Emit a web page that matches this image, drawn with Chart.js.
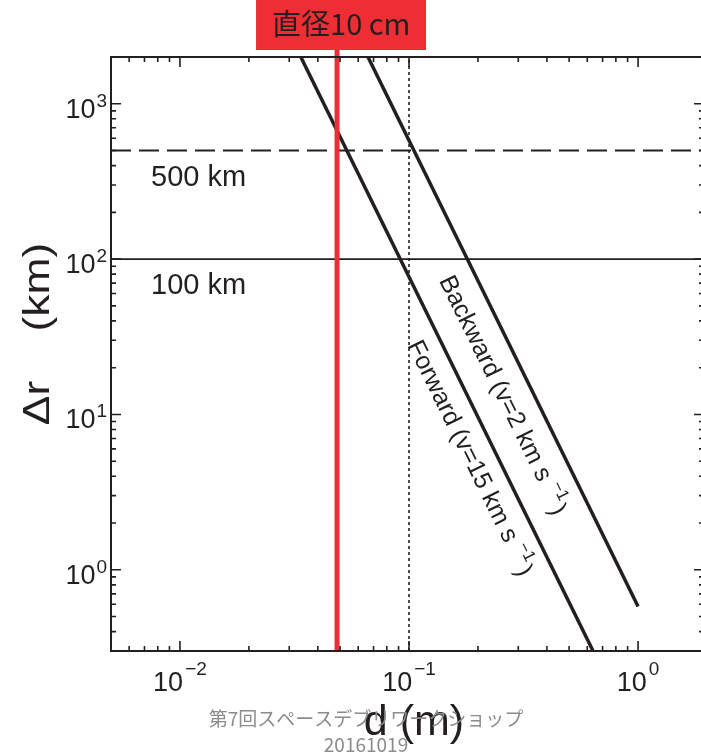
<!DOCTYPE html>
<html>
<head>
<meta charset="utf-8">
<script src="https://cdn.jsdelivr.net/npm/chart.js@4"></script>
<style>
  html, body { margin: 0; padding: 0; overflow: hidden; background: #fff; }
  #wrap { position: relative; width: 701px; height: 755px; overflow: hidden; }
  canvas { display: block; }
</style>
</head>
<body>
<div id="wrap"><canvas id="c" width="708" height="755" style="width:708px;height:755px"></canvas></div>
<script>
// Separation Δr reached by fragments versus their size d, on log–log axes.
const dRange = [0.005, 1.94];     // m
const drRange = [0.3, 2000];      // km

const forwardD = [0.0337, 0.636];
const forwardDr = [2000, 0.3];
const backwardD = [0.0662, 1.0];
const backwardDr = [2000, 0.58];

const refLevels = [500, 100];     // km
const refLabels = ['500 km', '100 km'];
const guideD = 0.1;               // dotted guide at 10 cm
const sizeD = 0.0485;             // red marker
const sizeLabel = '直径10 cm';

const xTickExps = [-2, -1, 0];
const yTickExps = [0, 1, 2, 3];

const curveNames = ['Forward (v=15 km s', 'Backward (v=2 km s'];
const curveAnchorD = [0.098, 0.135];
const curveAnchorDr = [27.9, 72.9];

const xTitle = 'd (m)';
const yTitle = 'Δr    (km)';
const footerLines = ['第7回スペースデブリワークショップ', '20161019'];

const INK = '#231f20';
const RED = '#ee2d35';
const SANS = '"Liberation Sans", Arial, sans-serif';
const CJK = '"Noto Sans CJK JP", "Noto Sans", sans-serif';

const pts = (xs, ys) => xs.map((x, i) => ({ x, y: ys[i] }));

function minorValues(lo, hi) {
  const out = [];
  for (let e = Math.floor(Math.log10(lo)); e <= Math.ceil(Math.log10(hi)); e++) {
    for (let m = 1; m <= 9; m++) {
      const v = m * Math.pow(10, e);
      if (v >= lo * 0.999 && v <= hi * 1.001) out.push({ v, major: m === 1 });
    }
  }
  return out;
}

const decor = {
  id: 'decor',
  beforeDatasetsDraw(chart) {
    const { ctx } = chart;
    ctx.save();
    ctx.fillStyle = '#fff';
    ctx.fillRect(0, 0, chart.width, chart.height);
    ctx.restore();
  },
  afterDatasetsDraw(chart) {
    const { ctx, chartArea: a } = chart;
    const xs = chart.scales.x, ys = chart.scales.y;

    // red size marker and its label box
    const rx = xs.getPixelForValue(sizeD);
    ctx.save();
    ctx.strokeStyle = RED;
    ctx.lineWidth = 5;
    ctx.beginPath();
    ctx.moveTo(rx, 48);
    ctx.lineTo(rx, a.bottom);
    ctx.stroke();
    ctx.fillStyle = RED;
    ctx.fillRect(rx - 81, 0, 170, 50);
    ctx.fillStyle = INK;
    ctx.font = '29px ' + CJK;
    ctx.textAlign = 'left';
    ctx.textBaseline = 'alphabetic';
    ctx.fillText(sizeLabel, rx - 65, 35);
    ctx.restore();

    // frame
    ctx.save();
    ctx.strokeStyle = INK;
    ctx.lineWidth = 2;
    ctx.strokeRect(a.left, a.top, a.right - a.left, a.bottom - a.top);

    // inward ticks on all four sides
    ctx.lineWidth = 1.6;
    ctx.beginPath();
    minorValues(dRange[0], dRange[1]).forEach(t => {
      const px = xs.getPixelForValue(t.v);
      const len = t.major ? 10 : 5;
      ctx.moveTo(px, a.bottom); ctx.lineTo(px, a.bottom - len);
      ctx.moveTo(px, a.top); ctx.lineTo(px, a.top + len);
    });
    minorValues(drRange[0], drRange[1]).forEach(t => {
      const py = ys.getPixelForValue(t.v);
      const len = t.major ? 10 : 5;
      ctx.moveTo(a.left, py); ctx.lineTo(a.left + len, py);
      ctx.moveTo(a.right, py); ctx.lineTo(a.right - len, py);
    });
    ctx.stroke();

    // tick labels 10^n
    ctx.fillStyle = INK;
    ctx.textBaseline = 'alphabetic';
    xTickExps.forEach(e => {
      const px = xs.getPixelForValue(Math.pow(10, e));
      const sup = e < 0 ? '\u2212' + Math.abs(e) : String(e);
      ctx.font = '27px ' + SANS;
      const w1 = ctx.measureText('10').width;
      ctx.font = '19px ' + SANS;
      const w2 = ctx.measureText(sup).width;
      const x0 = px - (w1 + 2 + w2) / 2;
      ctx.textAlign = 'left';
      ctx.font = '27px ' + SANS;
      ctx.fillText('10', x0, a.bottom + 40);
      ctx.font = '19px ' + SANS;
      ctx.fillText(sup, x0 + w1 + 2, a.bottom + 24);
    });
    yTickExps.forEach(e => {
      const py = ys.getPixelForValue(Math.pow(10, e));
      const sup = String(e);
      ctx.font = '19px ' + SANS;
      const w2 = ctx.measureText(sup).width;
      ctx.textAlign = 'right';
      ctx.fillText(sup, a.left - 4, py + 3);
      ctx.font = '27px ' + SANS;
      ctx.fillText('10', a.left - 5 - w2, py + 14);
    });

    // reference level labels
    ctx.textAlign = 'left';
    ctx.font = '29px ' + SANS;
    refLevels.forEach((lv, i) => {
      ctx.fillText(refLabels[i], a.left + 40, ys.getPixelForValue(lv) + 35);
    });

    // labels running along the two curves
    const curves = [[forwardD, forwardDr], [backwardD, backwardDr]];
    curves.forEach((c, i) => {
      const x1 = xs.getPixelForValue(c[0][0]), y1 = ys.getPixelForValue(c[1][0]);
      const x2 = xs.getPixelForValue(c[0][1]), y2 = ys.getPixelForValue(c[1][1]);
      const ang = Math.atan2(y2 - y1, x2 - x1);
      const ax = xs.getPixelForValue(curveAnchorD[i]);
      const ay = ys.getPixelForValue(curveAnchorDr[i]);
      ctx.save();
      ctx.translate(ax, ay);
      ctx.rotate(ang);
      ctx.font = '25px ' + SANS;
      ctx.textAlign = 'left';
      ctx.fillText(curveNames[i], 0, 0);
      let w = ctx.measureText(curveNames[i]).width + 7;
      ctx.font = '17px ' + SANS;
      ctx.fillText('\u22121', w, -11);
      w += ctx.measureText('\u22121').width + 2;
      ctx.font = '25px ' + SANS;
      ctx.fillText(')', w, 2);
      ctx.restore();
    });

    // axis titles
    ctx.font = '43px ' + SANS;
    ctx.textAlign = 'center';
    ctx.fillText(xTitle, 414, 735);
    ctx.save();
    ctx.translate(49, 334);
    ctx.rotate(-Math.PI / 2);
    ctx.scale(1.2, 1);
    ctx.font = '37px ' + SANS;
    ctx.fillText(yTitle, 0, 0);
    ctx.restore();

    // footer
    ctx.fillStyle = '#8c8c8c';
    ctx.font = '19px ' + CJK;
    ctx.fillText(footerLines[0], 366, 726);
    ctx.fillText(footerLines[1], 366, 752);
    ctx.restore();
  }
};

new Chart(document.getElementById('c'), {
  type: 'scatter',
  data: {
    datasets: [
      { label: 'Forward', data: pts(forwardD, forwardDr), borderColor: INK, borderWidth: 3.5 },
      { label: 'Backward', data: pts(backwardD, backwardDr), borderColor: INK, borderWidth: 3.5 },
      { label: '500 km', data: pts(dRange, [refLevels[0], refLevels[0]]), borderColor: INK, borderWidth: 2, borderDash: [20, 8] },
      { label: '100 km', data: pts(dRange, [refLevels[1], refLevels[1]]), borderColor: INK, borderWidth: 1.6 },
      { label: '10 cm', data: pts([guideD, guideD], drRange), borderColor: INK, borderWidth: 1.6, borderDash: [3, 3] }
    ].map(ds => Object.assign(ds, { showLine: true, pointRadius: 0, fill: false, tension: 0 }))
  },
  options: {
    responsive: false,
    devicePixelRatio: 1,
    animation: false,
    layout: { padding: { left: 111, top: 57, right: 4, bottom: 104 } },
    plugins: { legend: { display: false }, tooltip: { enabled: false } },
    scales: {
      x: { type: 'logarithmic', min: dRange[0], max: dRange[1], display: false },
      y: { type: 'logarithmic', min: drRange[0], max: drRange[1], display: false }
    }
  },
  plugins: [decor]
});
</script>
</body>
</html>
